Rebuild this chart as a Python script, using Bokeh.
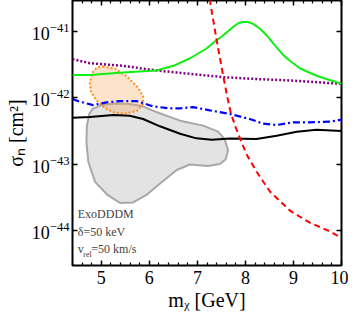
from bokeh.plotting import figure
from bokeh.models import LinearAxis, LogAxis, FixedTicker, Label, Range1d
from bokeh.embed import file_html
from bokeh.resources import INLINE

FONT = "Liberation Serif"
TICK_FONT = "Times New Roman"

# ---- data (m_chi in GeV, sigma_n in cm^2) ----
green_x = [4.40, 4.76, 5.45, 6.15, 6.50, 6.84, 7.19, 7.35, 7.54, 7.75, 7.85, 7.95, 8.05, 8.16, 8.30, 8.44, 8.60, 8.79, 8.95, 9.14, 9.48, 9.70, 10.0]
green_y = [2.19e-42, 2.19e-42, 2.40e-42, 2.57e-42, 3.02e-42, 3.89e-42, 5.50e-42, 6.90e-42, 8.71e-42, 1.17e-41, 1.32e-41, 1.38e-41, 1.38e-41, 1.29e-41, 1.10e-41, 8.71e-42, 6.30e-42, 4.37e-42, 3.47e-42, 2.75e-42, 2.14e-42, 1.90e-42, 1.62e-42]

purple_x = [4.40, 4.76, 5.45, 6.15, 6.84, 7.54, 8.23, 8.92, 10.0]
purple_y = [3.80e-42, 3.31e-42, 3.02e-42, 2.57e-42, 2.29e-42, 2.04e-42, 1.91e-42, 1.82e-42, 1.62e-42]

blue_x = [4.40, 4.55, 4.83, 5.11, 5.39, 5.73, 6.08, 6.43, 6.64, 6.91, 7.26, 7.68, 8.09, 8.37, 8.65, 9.00, 9.34, 9.76, 10.0]
blue_y = [9.55e-43, 8.71e-43, 7.76e-43, 8.51e-43, 8.91e-43, 8.91e-43, 7.41e-43, 6.92e-43, 6.92e-43, 7.24e-43, 6.46e-43, 5.69e-43, 4.79e-43, 4.07e-43, 3.89e-43, 4.27e-43, 4.27e-43, 4.37e-43, 4.68e-43]

black_x = [4.40, 4.76, 5.25, 5.59, 5.87, 6.22, 6.64, 6.98, 7.30, 7.68, 8.23, 8.65, 9.07, 9.48, 10.0]
black_y = [5.01e-43, 5.13e-43, 5.50e-43, 5.37e-43, 4.79e-43, 3.72e-43, 2.88e-43, 2.45e-43, 2.34e-43, 2.43e-43, 2.40e-43, 2.69e-43, 3.09e-43, 3.31e-43, 3.16e-43]

red_x = [7.22, 7.40, 7.54, 7.62, 7.70, 7.80, 7.89, 8.03, 8.23, 8.51, 8.93, 9.34, 9.76, 10.0]
red_y = [4.3e-41, 7.41e-42, 2.09e-42, 1.05e-42, 5.75e-43, 3.55e-43, 2.40e-43, 1.38e-43, 7.76e-44, 3.89e-44, 2.00e-44, 1.32e-44, 9.77e-45, 7.76e-45]

orange_x = [5.03, 5.28, 5.53, 5.74, 5.87, 5.87, 5.74, 5.49, 5.28, 5.07, 4.89, 4.78, 4.76, 4.82, 4.91]
orange_y = [2.95e-42, 2.75e-42, 2.09e-42, 1.49e-42, 1.06e-42, 8.07e-43, 6.35e-43, 5.74e-43, 5.93e-43, 7.03e-43, 9.25e-43, 1.26e-42, 1.71e-42, 2.40e-42, 2.85e-42]

gray_x = [4.82, 5.01, 5.28, 5.59, 5.84, 6.16, 6.64, 7.12, 7.43, 7.57, 7.64, 7.59, 7.47, 7.22, 6.84, 6.57, 6.28, 5.95, 5.66, 5.39, 5.12, 4.87, 4.73, 4.69, 4.70, 4.75]
gray_y = [6.81e-43, 7.80e-43, 8.20e-43, 8.07e-43, 7.53e-43, 6.04e-43, 4.52e-43, 3.81e-43, 3.10e-43, 2.36e-43, 1.62e-43, 1.19e-43, 1.01e-43, 9.40e-44, 9.91e-44, 8.20e-44, 5.55e-44, 3.50e-44, 2.66e-44, 2.62e-44, 3.50e-44, 5.44e-44, 1.08e-43, 2.13e-43, 3.81e-43, 5.74e-43]

x_major_ticks = [5, 6, 7, 8, 9, 10]
x_minor_ticks = [4.4, 4.6, 4.8, 5.2, 5.4, 5.6, 5.8, 6.2, 6.4, 6.6, 6.8, 7.2, 7.4, 7.6, 7.8,
                 8.2, 8.4, 8.6, 8.8, 9.2, 9.4, 9.6, 9.8]
y_major_ticks = [1e-44, 1e-43, 1e-42, 1e-41]

p = figure(width=348, height=313,
           x_range=Range1d(4.4, 10.0), y_range=Range1d(3.0e-45, 2.9e-41),
           y_axis_type="log", output_backend="svg", toolbar_location=None,
           min_border_left=72, min_border_right=7, min_border_top=0, min_border_bottom=44)
p.grid.visible = False
p.outline_line_color = "black"
p.outline_line_width = 2
p.background_fill_color = "white"

xt = FixedTicker(ticks=x_major_ticks, minor_ticks=x_minor_ticks)
yt = FixedTicker(ticks=y_major_ticks, minor_ticks=[])


def style(ax, labels=True):
    ax.axis_line_color = None
    ax.major_tick_in = 5
    ax.major_tick_out = 0
    ax.minor_tick_in = 3
    ax.minor_tick_out = 0
    ax.major_tick_line_width = 1.5
    ax.minor_tick_line_width = 1.2
    ax.major_label_text_font = TICK_FONT
    ax.major_label_text_font_size = "18px"
    ax.major_label_text_color = "black"
    ax.major_label_standoff = 5
    ax.axis_label_text_font = FONT
    ax.axis_label_text_font_size = "20px"
    ax.axis_label_text_font_style = "normal"
    ax.axis_label_text_color = "black"
    ax.axis_label_standoff = 2
    if not labels:
        ax.major_label_text_font_size = "1px"
        ax.major_label_text_color = None
        ax.major_label_standoff = 0


p.xaxis.ticker = xt
p.yaxis.ticker = yt
style(p.xaxis[0])
style(p.yaxis[0])
p.yaxis[0].major_label_standoff = 3
p.yaxis[0].axis_label_standoff = 2
p.xaxis.axis_label = "mᵪ [GeV]"
p.yaxis.axis_label = "σₙ [cm²]"

top = LinearAxis(ticker=xt)
style(top, labels=False)
p.add_layout(top, "above")
right = LogAxis(ticker=yt)
style(right, labels=False)
p.add_layout(right, "right")

# regions
p.patch(gray_x, gray_y, fill_color="#e3e3e3", line_color="#a8a8a8", line_width=2)
p.patch(orange_x, orange_y, fill_color="#f9a350", fill_alpha=0.3,
        line_color="#ff8c1a", line_dash="2 2", line_width=2)

# curves
p.line(purple_x, purple_y, line_color="#800080", line_width=2.5, line_dash="2 2")
p.line(green_x, green_y, line_color="#11ee11", line_width=2)
p.line(blue_x, blue_y, line_color="#0000ff", line_width=2.2, line_dash="7 3 2 3")
p.line(black_x, black_y, line_color="black", line_width=2)
p.line(red_x, red_y, line_color="#ff0000", line_width=2, line_dash="6 4")

# annotation text
p.add_layout(Label(x=4.51, y=1.38e-44, text="ExoDDDM", text_font=FONT, text_font_size="12px"))
p.add_layout(Label(x=4.51, y=7.6e-45, text="δ=50 keV", text_font=FONT, text_font_size="12px"))
p.add_layout(Label(x=4.51, y=4.1e-45, text="v", text_font=FONT, text_font_size="12px"))
p.add_layout(Label(x=4.51, y=4.1e-45, x_offset=5.5, y_offset=-2.5, text="rel", text_font=FONT, text_font_size="8px"))
p.add_layout(Label(x=4.51, y=4.1e-45, x_offset=13.5, text="=50 km/s", text_font=FONT, text_font_size="12px"))

open("out.html", "w").write(file_html(p, INLINE))
